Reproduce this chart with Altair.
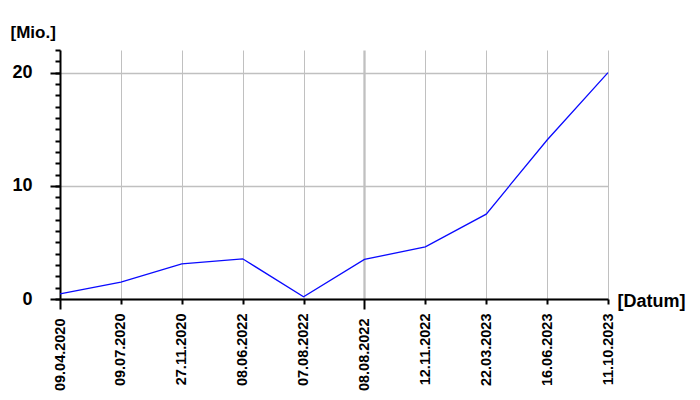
import altair as alt
import pandas as pd

dates = ["09.04.2020", "09.07.2020", "27.11.2020", "08.06.2022", "07.08.2022",
         "08.08.2022", "12.11.2022", "22.03.2023", "16.06.2023", "11.10.2023"]
values = [0.45, 1.5, 3.1, 3.55, 0.2, 3.5, 4.6, 7.5, 14.05, 20.0]
major_ticks = [0, 10, 20]
minor_ticks = list(range(0, 23))

df = pd.DataFrame({"Datum": dates, "Wert": values})

FONT = "Liberation Sans"
SPECIAL = "datum.label === '08.08.2022' || datum.label === '09.04.2020'"

x_enc = alt.X(
    "Datum:O",
    sort=dates,
    scale=alt.Scale(type="point", padding=0),
    axis=alt.Axis(
        title="[Datum]",
        titleAngle=0,
        titleAlign="left",
        titleBaseline="alphabetic",
        titleX=557,
        titleY=7,
        titleFont=FONT,
        titleFontSize=18,
        titleFontWeight="bold",
        titleColor="black",
        labelAngle=270,
        labelAlign="right",
        labelBaseline="middle",
        labelFont=FONT,
        labelFontSize=14.5,
        labelFontWeight="bold",
        labelColor="black",
        labelPadding=9,
        tickSize={"condition": {"test": SPECIAL, "value": 10}, "value": 5},
        tickWidth=2,
        tickColor="black",
        domainColor="black",
        domainWidth=2,
        grid=True,
        gridColor="#c0c0c0",
        gridWidth={"condition": {"test": "datum.label === '08.08.2022'", "value": 2.3}, "value": 1},
        labelOverlap=False,
    ),
)

y_scale = alt.Scale(domain=[0, 22], nice=False, zero=True)

line = alt.Chart(df).mark_line(color="#0a0aff", strokeWidth=1.3).encode(
    x=x_enc,
    y=alt.Y(
        "Wert:Q",
        scale=y_scale,
        axis=alt.Axis(
            orient="left",
            values=major_ticks,
            title="[Mio.]",
            titleAngle=0,
            titleAlign="left",
            titleBaseline="alphabetic",
            titleX=-50,
            titleY=-13,
            titleFont=FONT,
            titleFontSize=17,
            titleFontWeight="bold",
            titleColor="black",
            labelFont=FONT,
            labelFontSize=18,
            labelFontWeight="bold",
            labelColor="black",
            labelPadding=18,
            tickSize=10,
            tickWidth=2,
            tickColor="black",
            domainColor="black",
            domainWidth=2,
            grid=True,
            gridColor="#c0c0c0",
            gridWidth=1.5,
        ),
    ),
)

minor = alt.Chart(df).mark_line(opacity=0).encode(
    x=x_enc,
    y=alt.Y(
        "Wert:Q",
        scale=y_scale,
        axis=alt.Axis(
            orient="left",
            values=minor_ticks,
            title=None,
            labels=False,
            domain=False,
            grid=False,
            tickSize=5,
            tickWidth=2,
            tickColor="black",
        ),
    ),
)

chart = (
    alt.layer(line, minor)
    .resolve_axis(y="independent")
    .properties(
        width=548,
        height=249,
        autosize=alt.AutoSizeParams(type="none"),
        padding={"left": 52, "top": 42, "right": 84, "bottom": 101},
        background="white",
    )
    .configure_view(stroke=None)
)

chart.save("out.html", embed_options={"renderer": "svg", "actions": False})
